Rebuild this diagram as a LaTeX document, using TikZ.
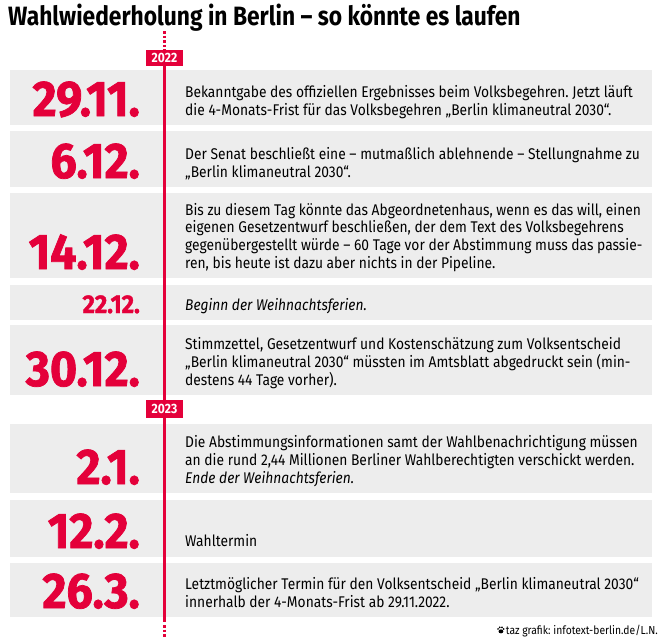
\documentclass[tikz,border=0pt]{standalone}
\usepackage{fontspec}
\setmainfont{Fira Sans}[FakeStretch=0.89]
\newfontfamily\titlefont{Fira Sans}[FakeStretch=0.86, Ligatures=TeX]
\newfontfamily\datefont{Fira Sans}[FakeStretch=0.93, BoldFeatures={FakeBold=1.5}]
\usetikzlibrary{positioning}
\definecolor{tazred}{HTML}{E4003A}
\definecolor{rowgray}{HTML}{EDEDED}
\frenchspacing

\begin{document}
\begin{tikzpicture}[x=1pt, y=-1pt,
  rowbox/.style={fill=rowgray, minimum width=642pt, anchor=north west, inner sep=0pt},
  datum/.style={anchor=base east, text=tazred, inner sep=0pt, font=\datefont\fontsize{50}{50}\selectfont\bfseries},
  smalldatum/.style={datum, font=\datefont\fontsize{25.7}{25.7}\selectfont\bfseries},
  info/.style={anchor=base west, align=left, inner sep=0pt, font=\fontsize{15.5}{17.6}\selectfont},
  yearbox/.style={fill=tazred, text=white, inner sep=0pt, minimum width=37pt, minimum height=16pt, font=\fontsize{13.5}{13.5}\selectfont\bfseries},
  timeline/.style={draw=tazred, line width=2.5pt},
  dots/.style={timeline, dash pattern=on 2.5pt off 2pt}]
  \useasboundingbox (0,0) rectangle (665,638);

  % title
  \node[anchor=base west, inner sep=0pt, font=\titlefont\fontsize{26.5}{26.5}\selectfont\bfseries] (title) at (8,25) {Wahlwiederholung in Berlin – so könnte es laufen};

  % rows
  \node[rowbox, minimum height=55pt] (row1) at (10,70) {};
  \node[rowbox, minimum height=56pt] (row2) at (10,131) {};
  \node[rowbox, minimum height=85pt] (row3) at (10,193) {};
  \node[rowbox, minimum height=35pt] (row4) at (10,285) {};
  \node[rowbox, minimum height=70pt] (row5) at (10,325) {};
  \node[rowbox, minimum height=69pt] (row6) at (10,424) {};
  \node[rowbox, minimum height=57pt] (row7) at (10,500) {};
  \node[rowbox, minimum height=54pt] (row8) at (10,563) {};

  % timeline
  \coordinate (linetop) at (164.5,31);
  \coordinate (lineend) at (164.5,622);
  \coordinate (linebottom) at (164.5,638);
  \node[yearbox] (y2022) at (164.5,57.5) {2022};
  \draw[dots] (linetop) -- (y2022.north);
  \draw[timeline] (y2022.south) -- (lineend);
  \draw[dots] (lineend) ++(0,3) -- (linebottom);
  \node[yearbox, minimum height=18pt] (y2023) at (164.5,409) {2023};

  % dates
  \node[datum] (d1) at (140,116) {29.11.};
  \node[datum] (d2) at (140,178) {6.12.};
  \node[datum] (d3) at (140,269) {14.12.};
  \node[smalldatum] (d4) at (140,313) {22.12.};
  \node[datum] (d5) at (140,386) {30.12.};
  \node[datum] (d6) at (140,484) {2.1.};
  \node[datum] (d7) at (140,548) {12.2.};
  \node[datum] (d8) at (140,608) {26.3.};

  % texts (base = last line)
  \node[info] (t1) at (185,115) {Bekanntgabe des offiziellen Ergebnisses beim Volksbegehren. Jetzt läuft\\die 4-Monats-Frist für das Volksbegehren „Berlin klimaneutral 2030“.};
  \node[info] (t2) at (185,177) {Der Senat beschließt eine -- mutmaßlich ablehnende -- Stellungnahme zu\\„Berlin klimaneutral 2030“.};
  \node[info] (t3) at (185,268) {Bis zu diesem Tag könnte das Abgeordnetenhaus, wenn es das will, einen\\eigenen Gesetzentwurf beschließen, der dem Text des Volksbegehrens\\gegenübergestellt würde -- 60 Tage vor der Abstimmung muss das passie-\\ren, bis heute ist dazu aber nichts in der Pipeline.};
  \node[info] (t4) at (185,310) {\itshape Beginn der Weihnachtsferien.};
  \node[info] (t5) at (185,385) {Stimmzettel, Gesetzentwurf und Kostenschätzung zum Volksentscheid\\„Berlin klimaneutral 2030“ müssten im Amtsblatt abgedruckt sein (min-\\destens 44 Tage vorher).};
  \node[info] (t6) at (185,483) {Die Abstimmungsinformationen samt der Wahlbenachrichtigung müssen\\an die rund 2,44 Millionen Berliner Wahlberechtigten verschickt werden.\\\textit{Ende der Weihnachtsferien.}};
  \node[info] (t7) at (185,546) {Wahltermin};
  \node[info] (t8) at (185,607) {Letztmöglicher Termin für den Volksentscheid „Berlin klimaneutral 2030“\\innerhalb der 4-Monats-Frist ab 29.11.2022.};

  % credit
  \node[anchor=base east, inner sep=0pt, font=\fontsize{11.6}{11.6}\selectfont] (credit) at (658,634) {taz grafik: infotext-berlin.de/L.N.};
  \coordinate[left=5pt of credit.west] (paw);
  \fill (paw) ++(0.3,0.8) ellipse (2.4pt and 2pt);
  \fill (paw) ++(-2.6,-1.6) circle (0.95pt);
  \fill (paw) ++(-0.9,-3.2) circle (0.95pt);
  \fill (paw) ++(1.3,-3.2) circle (0.95pt);
  \fill (paw) ++(3,-1.6) circle (0.95pt);
\end{tikzpicture}
\end{document}
